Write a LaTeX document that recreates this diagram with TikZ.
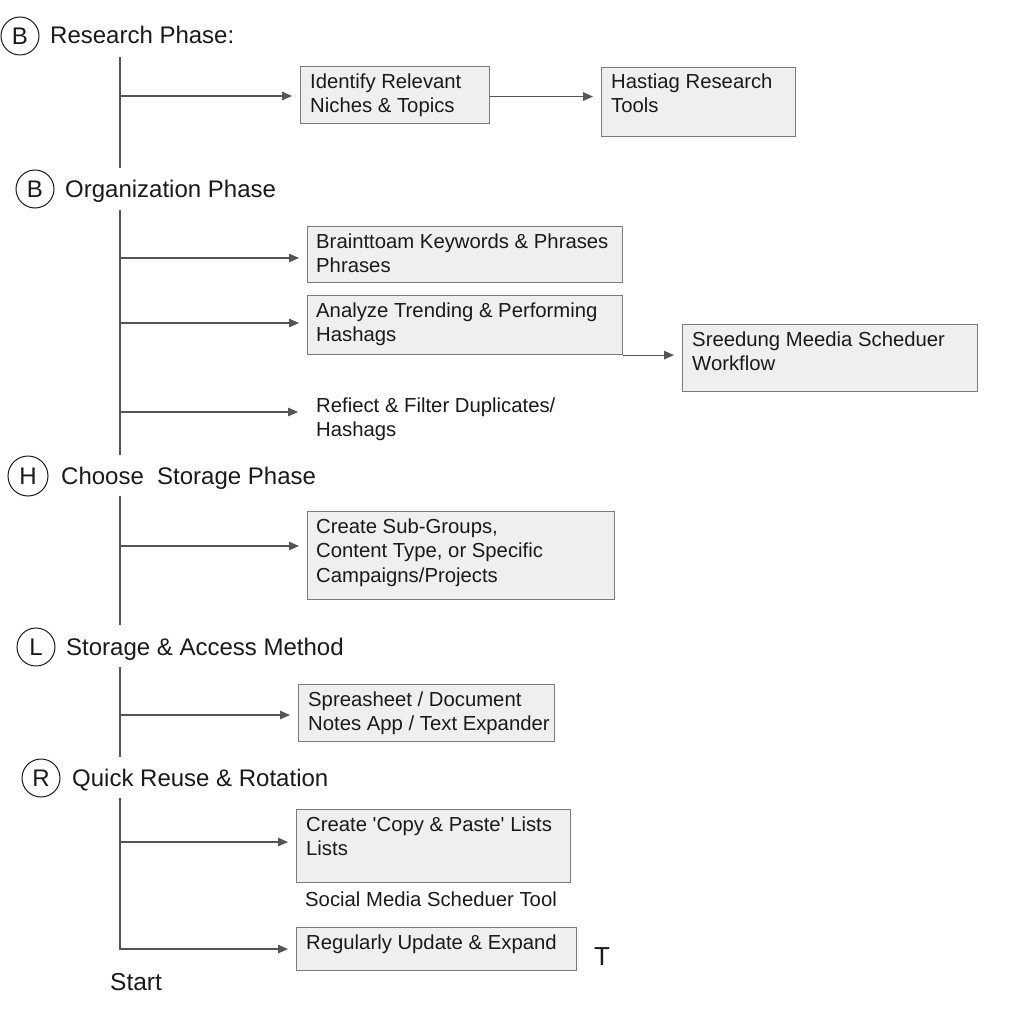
\documentclass[tikz,border=0pt]{standalone}
\usepackage{fontspec}
\setmainfont{Liberation Sans}
\usetikzlibrary{arrows.meta,calc}
\definecolor{ink}{HTML}{1A1A1A}
\definecolor{linec}{HTML}{555555}
\definecolor{boxline}{HTML}{7A7A7A}
\definecolor{boxfill}{HTML}{EFEFEF}
\begin{document}
\begin{tikzpicture}[x=1pt,y=-1pt,
  box/.style={draw=boxline,line width=1.1pt,fill=boxfill,rectangle,inner sep=0pt,anchor=north west},
  txt/.style={font=\fontsize{20.3}{24.5}\selectfont,text=ink,align=left,inner sep=0pt,anchor=north west},
  head/.style={font=\fontsize{24}{28}\selectfont,text=ink,inner sep=0pt,anchor=base west},
  circ/.style={circle,draw=ink,line width=1pt,minimum size=38pt,inner sep=0pt,font=\fontsize{24}{28}\selectfont,text=ink},
  spine/.style={draw=linec,line width=1.2pt},
  arr/.style={draw=linec,line width=1.2pt,-{Triangle[length=10pt,width=8.5pt]},shorten >=8pt}
]
\useasboundingbox[fill=white] (0,0) rectangle (1024,1024);

% ---------- Research phase
\node[circ] (c1) at (20,36) {B};
\node[head] (h1) at (50,43.5) {Research Phase:};
\coordinate (s1a) at (120,57);
\coordinate (s1b) at (120,168);
\coordinate (s1r) at (120,96);
\draw[spine] (s1a) -- (s1b);
\node[box,minimum width=189pt,minimum height=57pt] (b1) at (300,66) {};
\node[txt] (t1) at (310,73.5) {Identify Relevant\\Niches \& Topics};
\node[box,minimum width=194pt,minimum height=69pt] (b2) at (601,67) {};
\node[txt] (t2) at (611,73.5) {Hastiag Research\\Tools};
\draw[arr] (s1r) -- (s1r -| b1.west);
\draw[arr] ($(b1.east)+(0,1.5)$) coordinate (e1) -- (e1 -| b2.west);

% ---------- Organization phase
\node[circ] (c2) at (35,189) {B};
\node[head] (h2) at (65,197.5) {Organization Phase};
\coordinate (s2a) at (120,210);
\coordinate (s2b) at (120,455);
\draw[spine] (s2a) -- (s2b);
\node[box,minimum width=315pt,minimum height=56pt] (b3) at (307,226) {};
\node[txt] (t3) at (316,233.5) {Brainttoam Keywords \& Phrases\\Phrases};
\node[box,minimum width=315pt,minimum height=59pt] (b4) at (307,295) {};
\node[txt] (t4) at (316,302.5) {Analyze Trending \& Performing\\Hashags};
\node[box,minimum width=295pt,minimum height=67pt] (b5) at (682,324) {};
\node[txt] (t5) at (692,331.5) {Sreedung Meedia Scheduer\\Workflow};
\node[txt] (t6) at (316,397.5) {Refiect \& Filter Duplicates/\\Hashags};
\coordinate (s2r1) at (120,258);
\coordinate (s2r2) at (120,323);
\coordinate (s2r3) at (120,412);
\draw[arr] (s2r1) -- (s2r1 -| b3.west);
\draw[arr] (s2r2) -- (s2r2 -| b4.west);
\draw[arr,shorten >=18pt] (s2r3) -- (s2r3 -| t6.west);
\draw[arr] (b4.south east) -- (b4.south east -| b5.west);

% ---------- Choose storage phase
\node[circ,minimum size=40pt] (c3) at (28,476) {H};
\node[head] (h3) at (61,484.5) {Choose\ \ Storage Phase};
\coordinate (s3a) at (120,496);
\coordinate (s3b) at (120,625);
\coordinate (s3r) at (120,546);
\draw[spine] (s3a) -- (s3b);
\node[box,minimum width=307pt,minimum height=88pt] (b6) at (307,511) {};
\node[txt] (t7) at (316,518.5) {Create Sub-Groups,\\Content Type, or Specific\\Campaigns/Projects};
\draw[arr] (s3r) -- (s3r -| b6.west);

% ---------- Storage & access
\node[circ] (c4) at (36,647) {L};
\node[head] (h4) at (66,655.5) {Storage \& Access Method};
\coordinate (s4a) at (120,667);
\coordinate (s4b) at (120,757);
\coordinate (s4r) at (120,715);
\draw[spine] (s4a) -- (s4b);
\node[box,minimum width=256pt,minimum height=57pt] (b7) at (298,684) {};
\node[txt] (t8) at (308,691.5) {Spreasheet / Document\\Notes App / Text Expander};
\draw[arr] (s4r) -- (s4r -| b7.west);

% ---------- Quick reuse
\node[circ] (c5) at (41,778) {R};
\node[head] (h5) at (72,786.5) {Quick Reuse \& Rotation};
\coordinate (s5a) at (120,798);
\coordinate (s5r) at (120,842);
\node[box,minimum width=274pt,minimum height=73pt] (b8) at (296,809) {};
\node[txt] (t9) at (306,816.5) {Create \textquotesingle Copy \& Paste\textquotesingle{} Lists\\Lists};
\node[txt] (t10) at (305,891.5) {Social Media Scheduer Tool};
\node[box,minimum width=280pt,minimum height=43pt] (b9) at (296,927) {};
\node[txt] (t11) at (306,934.5) {Regularly Update \& Expand};
\draw[arr] (s5r) -- (s5r -| b8.west);
\draw[arr] (s5a) |- (b9.west);
\node[font=\fontsize{26}{30}\selectfont,text=ink,inner sep=0pt,anchor=west] (tT) at (594,957) {T};
\node[font=\fontsize{24.5}{28}\selectfont,text=ink,inner sep=0pt,anchor=north west] (st) at (110,973) {Start};
\end{tikzpicture}
\end{document}
